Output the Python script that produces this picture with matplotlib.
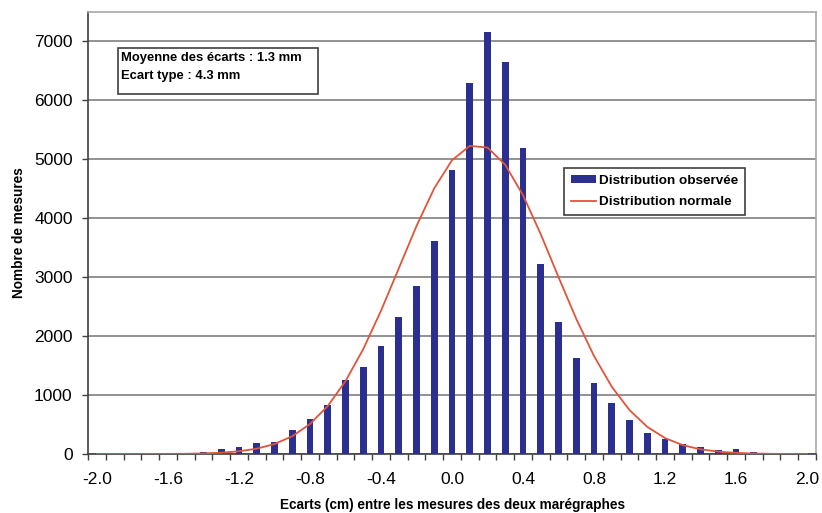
import matplotlib
matplotlib.use("Agg")
import matplotlib.pyplot as plt
from matplotlib.patches import Rectangle
import numpy as np

plt.rcParams['font.family'] = ['Liberation Sans', 'DejaVu Sans']

categories = ["-2.0", "-1.9", "-1.8", "-1.7", "-1.6", "-1.5", "-1.4", "-1.3", "-1.2", "-1.1",
              "-1.0", "-0.9", "-0.8", "-0.7", "-0.6", "-0.5", "-0.4", "-0.3", "-0.2", "-0.1",
              "0.0", "0.1", "0.2", "0.3", "0.4", "0.5", "0.6", "0.7", "0.8", "0.9",
              "1.0", "1.1", "1.2", "1.3", "1.4", "1.5", "1.6", "1.7", "1.8", "1.9", "2.0"]

observed = [0, 2, 3, 5, 10, 20, 40, 80, 113, 192,
            203, 407, 599, 825, 1254, 1480, 1836, 2328, 2853, 3615,
            4814, 6300, 7158, 6650, 5198, 3220, 2232, 1622, 1198, 859,
            576, 361, 260, 164, 119, 68, 82, 30, 12, 5, 2]

normal = [0, 0, 0, 1, 2, 4, 10, 22, 46, 90,
          169, 301, 508, 814, 1235, 1779, 2430, 3147, 3868, 4509,
          4985, 5228, 5200, 4907, 4391, 3728, 3001, 2292, 1661, 1141,
          744, 460, 270, 150, 79, 40, 19, 8, 3, 1, 0]

yticks = [0, 1000, 2000, 3000, 4000, 5000, 6000, 7000]
label_every = 4

W, H = 822, 513
fig = plt.figure(figsize=(W / 100, H / 100), dpi=100)
ax = fig.add_axes([88 / W, 1 - 454 / H, (816 - 88) / W, (454 - 12) / H])

x = np.arange(len(categories))
bar_color = '#2b2f8f'
line_color = '#e2543a'

bars = ax.bar(x, observed, width=0.38, color=bar_color, zorder=3, label='Distribution observée')
line, = ax.plot(x, normal, color=line_color, lw=1.3, zorder=4, label='Distribution normale')

ax.set_xlim(-0.5, len(categories) - 0.5)
ax.set_ylim(0, 7500)

ax.set_yticks(yticks)
ax.set_yticklabels([str(v) for v in yticks], fontsize=12.5)
ax.yaxis.grid(True, color='#7f7f7f', lw=1.2, zorder=1)
ax.set_axisbelow(True)

major = x[::label_every]
ax.set_xticks(major)
ax.set_xticklabels([categories[i] for i in major], fontsize=12.5)
ax.set_xticks(np.arange(-0.5, len(categories), 1.0), minor=True)
ax.tick_params(axis='x', which='major', length=0, pad=13)
ax.tick_params(axis='x', which='minor', length=4, width=1, color='#404040', direction='out')
ax.tick_params(axis='y', which='major', length=4, width=1, color='#404040', direction='out', pad=7)

for side in ['top', 'right']:
    ax.spines[side].set_color('#a8a8a8')
    ax.spines[side].set_linewidth(1.2)
for side in ['left', 'bottom']:
    ax.spines[side].set_color('#404040')
    ax.spines[side].set_linewidth(1.2)

ax.set_xlabel('Ecarts (cm) entre les mesures des deux marégraphes', fontsize=9.8,
              fontweight='bold', labelpad=8)
ax.set_ylabel('Nombre de mesures', fontsize=9.8, fontweight='bold', labelpad=6)

# Stats box
bx0 = (118 - 88) / 728
by_top = (454 - 48) / 442
bw = 200 / 728
bh = 46 / 442
ax.add_patch(Rectangle((bx0, by_top - bh), bw, bh, transform=ax.transAxes,
                       facecolor='white', edgecolor='#404040', lw=1.2, zorder=5))
ax.text(bx0 + 3 / 728, (454 - 58) / 442, 'Moyenne des écarts : 1.3 mm', transform=ax.transAxes,
        fontsize=9.4, fontweight='bold', va='center', ha='left', zorder=6)
ax.text(bx0 + 3 / 728, (454 - 76) / 442, 'Ecart type : 4.3 mm', transform=ax.transAxes,
        fontsize=9.4, fontweight='bold', va='center', ha='left', zorder=6)

leg = ax.legend(handles=[bars, line], labels=['Distribution observée', 'Distribution normale'],
                loc='upper left', bbox_to_anchor=((564 - 88) / 728, (454 - 168) / 442),
                borderaxespad=0, prop={'weight': 'bold', 'size': 9.7},
                frameon=True, fancybox=False, edgecolor='#404040', framealpha=1,
                handlelength=1.85, handletextpad=0.25, borderpad=0.5, labelspacing=0.72,
                handleheight=0.6)
leg.get_frame().set_linewidth(1.2)
leg.set_zorder(6)

fig.savefig('out.png', dpi=100, facecolor='white')
